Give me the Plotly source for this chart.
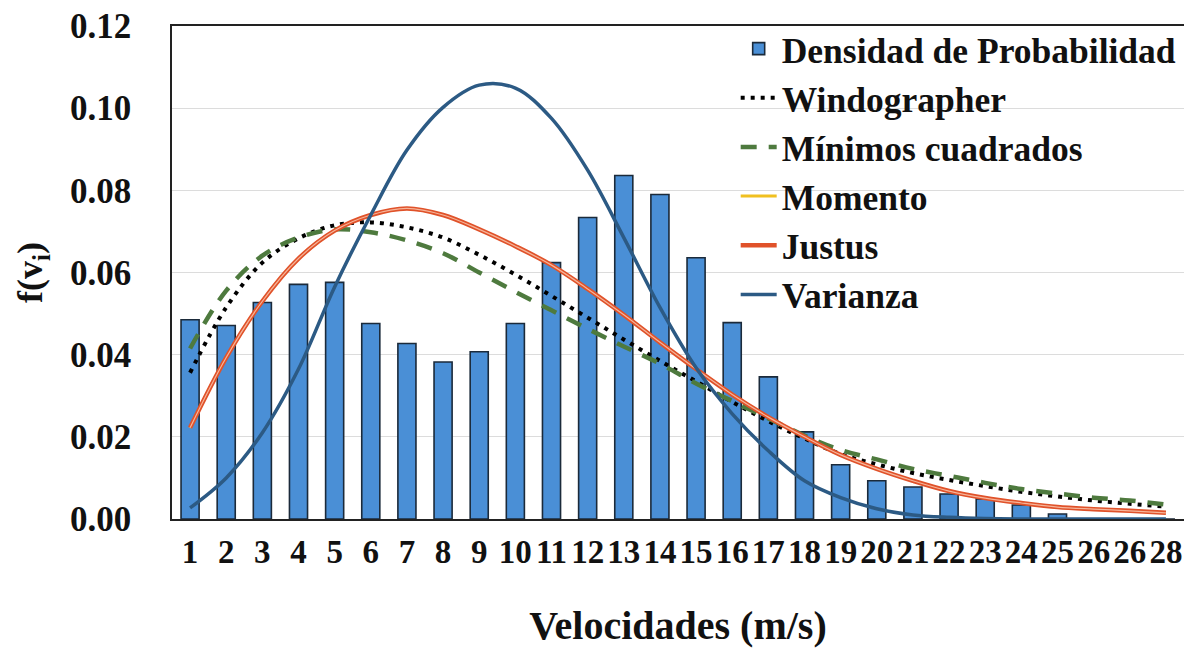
import plotly.graph_objects as go

# ---- data ----
x_pos = list(range(1, 29))
x_labels = ["1", "2", "3", "4", "5", "6", "7", "8", "9", "10", "11", "12", "13", "14",
            "15", "16", "17", "18", "19", "20", "21", "22", "23", "24", "25", "26", "26", "28"]

densidad = [0.0485, 0.0471, 0.0527, 0.0571, 0.0576, 0.0476, 0.0427, 0.0382, 0.0407, 0.0476,
            0.0624, 0.0734, 0.0836, 0.0790, 0.0636, 0.0478, 0.0346, 0.0212, 0.0132, 0.0093,
            0.0078, 0.0061, 0.0049, 0.0034, 0.0012, 0.0, 0.0, 0.0]

windographer = [0.0356, 0.0515, 0.0624, 0.0683, 0.0715, 0.0722, 0.0710, 0.0685, 0.0643, 0.0595,
                0.0543, 0.0490, 0.0437, 0.0385, 0.0335, 0.0285, 0.0238, 0.0196, 0.0158, 0.0133,
                0.0112, 0.0095, 0.0080, 0.0066, 0.0055, 0.0045, 0.0037, 0.0030]

minimos = [0.0415, 0.0556, 0.0641, 0.0685, 0.0705, 0.0698, 0.0678, 0.0647, 0.0600, 0.0553,
           0.0508, 0.0463, 0.0420, 0.0378, 0.0330, 0.0287, 0.0245, 0.0203, 0.0168, 0.0145,
           0.0122, 0.0105, 0.0088, 0.0073, 0.0062, 0.0052, 0.0045, 0.0035]

momento = [0.0222, 0.0393, 0.0530, 0.0634, 0.0702, 0.0740, 0.0756, 0.0740, 0.0705, 0.0664,
           0.0618, 0.0560, 0.0497, 0.0430, 0.0365, 0.0303, 0.0248, 0.0200, 0.0156, 0.0122,
           0.0093, 0.0068, 0.0051, 0.0039, 0.0029, 0.0024, 0.0020, 0.0015]

justus = [0.0222, 0.0393, 0.0530, 0.0634, 0.0702, 0.0740, 0.0756, 0.0740, 0.0705, 0.0664,
          0.0618, 0.0560, 0.0497, 0.0430, 0.0365, 0.0303, 0.0248, 0.0200, 0.0156, 0.0122,
          0.0093, 0.0068, 0.0051, 0.0039, 0.0029, 0.0024, 0.0020, 0.0015]

varianza = [0.0027, 0.0100, 0.0210, 0.0365, 0.0565, 0.0740, 0.0898, 0.1002, 0.1056, 0.1049,
            0.0975, 0.0849, 0.0685, 0.0515, 0.0368, 0.0256, 0.0166, 0.0093, 0.0052, 0.0025,
            0.0010, 0.0004, 0.0001, 0.0, 0.0, 0.0, 0.0, 0.0]

y_ticks = [0.00, 0.02, 0.04, 0.06, 0.08, 0.10, 0.12]

FONT = "Liberation Serif"

fig = go.Figure()

fig.add_trace(go.Bar(
    x=x_pos, y=densidad, name="Densidad de Probabilidad", width=0.5,
    marker=dict(color="#4A8FD6", line=dict(color="#1B2A3A", width=1.6)),
))
fig.add_trace(go.Scatter(
    x=x_pos, y=windographer, name="Windographer", mode="lines",
    line=dict(color="#000000", width=4, dash="4px,6px", shape="spline"),
))
fig.add_trace(go.Scatter(
    x=x_pos, y=minimos, name="Mínimos cuadrados", mode="lines",
    line=dict(color="#4E7A3E", width=4.5, dash="16px,12px", shape="spline"),
))
fig.add_trace(go.Scatter(
    x=x_pos, y=momento, name="Momento", mode="lines",
    line=dict(color="#F0C020", width=3, shape="spline"),
))
fig.add_trace(go.Scatter(
    x=x_pos, y=justus, name="Justus", mode="lines", legendgroup="justus",
    line=dict(color="#E0522A", width=4.5, shape="spline"),
))
fig.add_trace(go.Scatter(
    x=x_pos, y=justus, name="Justus", mode="lines", legendgroup="justus", showlegend=False,
    line=dict(color="#F6B59A", width=1.2, shape="spline"),
))
fig.add_trace(go.Scatter(
    x=x_pos, y=varianza, name="Varianza", mode="lines",
    line=dict(color="#2C5A84", width=3.5, shape="spline"),
))

# the page body adds an 8px offset, so the figure is sized 8px smaller
fig.update_layout(
    width=1184, height=641,
    margin=dict(l=164, r=8, t=18, b=130),
    paper_bgcolor="white", plot_bgcolor="white",
    font=dict(family=FONT, color="#111111", weight="bold"),
    showlegend=True,
    legend=dict(
        x=0.557, y=1.014, xanchor="left", yanchor="top",
        bgcolor="rgba(0,0,0,0)", borderwidth=0,
        font=dict(family=FONT, size=35.5, color="#111111", weight="bold"),
        itemwidth=36, tracegroupgap=0,
    ),
    bargap=0.5,
)

fig.update_xaxes(
    range=[0.5, 28.5], tickmode="array", tickvals=x_pos, ticktext=x_labels,
    tickfont=dict(family=FONT, size=33, color="#111111", weight="bold"),
    showgrid=False, showline=True, linecolor="#222222", linewidth=2, mirror=True,
    ticks="", ticklabelstandoff=2, automargin=False, ticklabeloverflow="allow",
    title=dict(text="Velocidades (m/s)", standoff=42,
               font=dict(family=FONT, size=40, color="#111111", weight="bold")),
)
fig.update_yaxes(
    range=[0, 0.12], tickmode="array", tickvals=y_ticks,
    ticktext=[f"{v:.2f}" for v in y_ticks],
    tickfont=dict(family=FONT, size=35, color="#111111", weight="bold"),
    showgrid=True, gridcolor="#DCDCDC", gridwidth=1.2,
    showline=True, linecolor="#222222", linewidth=1.5, mirror=True,
    ticks="", ticklabelstandoff=32, zeroline=False, automargin=False,
    ticklabeloverflow="allow",
    title=dict(text="f(v<sub>i</sub>)", standoff=16,
               font=dict(family=FONT, size=36, color="#111111", weight="bold")),
)

fig.write_html("out.html")
